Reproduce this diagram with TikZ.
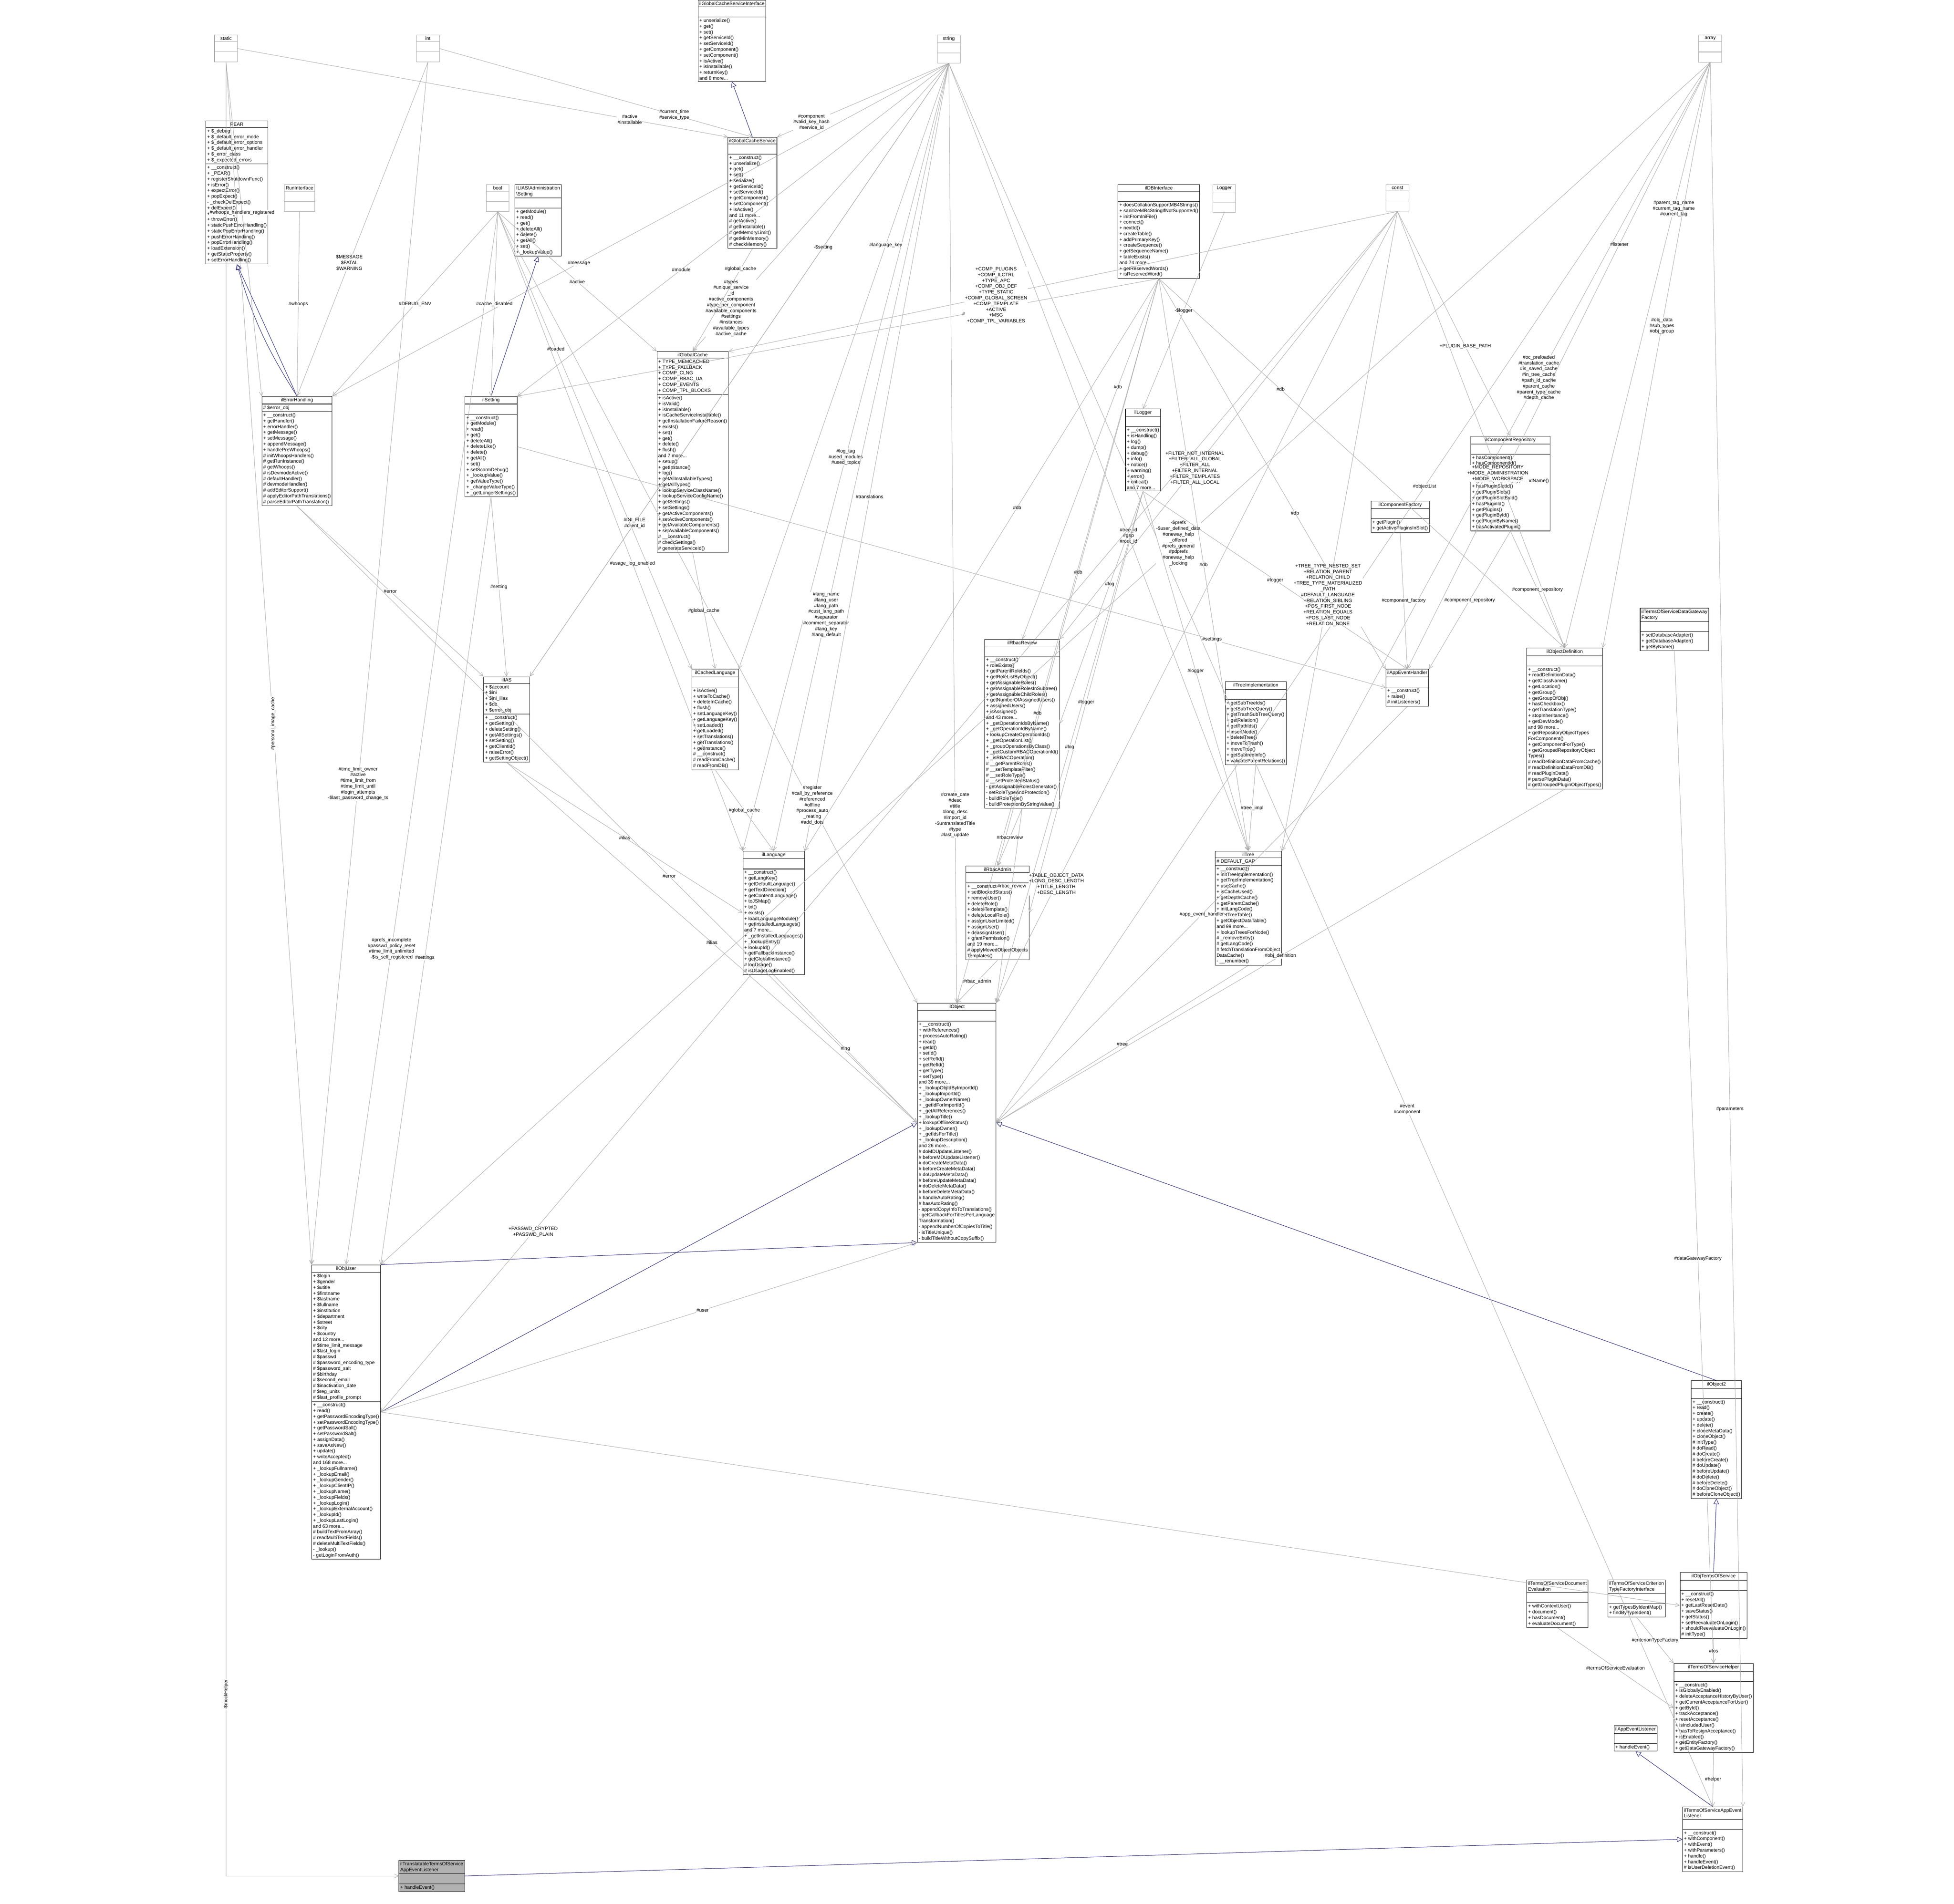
\documentclass[tikz,border=0pt]{standalone}
\usepackage{fontspec}
\setmainfont{Liberation Sans}
\usetikzlibrary{positioning,shapes.multipart,arrows.meta}
\definecolor{inhblue}{rgb}{0.1,0.1,0.44}
\tikzset{every path/.append style={line width=0.3pt}}
\tikzset{
  cls/.style={draw=black, fill=white, rectangle split, rectangle split parts=3,
    rectangle split ignore empty parts=false,
    rectangle split part align={center,left,left}, align=left,
    font=\fontsize{3.6}{4.3}\selectfont, inner sep=1pt, anchor=north west},
  prim/.style={cls, draw=gray!70, minimum width=0.6cm},
  use/.style={draw=gray!65, -{Straight Barb[length=3pt,width=3pt]}},
  inh/.style={draw=inhblue, -{Triangle[open,length=4pt,width=4pt]}},
  lbl/.style={font=\fontsize{3.6}{4.3}\selectfont, align=center, fill=white, inner sep=0.3pt}
}
\begin{document}
\begin{tikzpicture}[x=0.0326cm,y=-0.0326cm]
\useasboundingbox (0,0) rectangle (1568,1528);
% plain types
\node[prim] (static) at (172,28) {static\nodepart{two}\nodepart{three}};
\node[prim] (int) at (334,28) {int\nodepart{two}\nodepart{three}};
\node[prim] (string) at (752,28) {string\nodepart{two}\nodepart{three}};
\node[prim] (array) at (1363,28) {array\nodepart{two}\nodepart{three}};
\node[prim] (bool) at (390,148) {bool\nodepart{two}\nodepart{three}};
\node[prim] (const) at (1112,148) {const\nodepart{two}\nodepart{three}};
\node[prim] (Logger) at (973,148) {Logger\nodepart{two}\nodepart{three}};
\node[prim] (RunInterface) at (228,148) {RunInterface\nodepart{two}\nodepart{three}};
% classes
\node[cls] (gcsi) at (560,0) {ilGlobalCacheServiceInterface\nodepart{two}\nodepart{three}
+ unserialize()\\+ get()\\+ set()\\+ getServiceId()\\+ setServiceId()\\+ getComponent()\\+ setComponent()\\+ isActive()\\+ isInstallable()\\+ returnKey()\\and 8 more...};
\node[cls] (PEAR) at (165,97) {PEAR\nodepart{two}+ \$\_debug\\+ \$\_default\_error\_mode\\+ \$\_default\_error\_options\\+ \$\_default\_error\_handler\\+ \$\_error\_class\\+ \$\_expected\_errors
\nodepart{three}+ \_\_construct()\\+ \_PEAR()\\+ registerShutdownFunc()\\+ isError()\\+ expectError()\\+ popExpect()\\- \_checkDelExpect()\\+ delExpect()\\+ raiseError()\\+ throwError()\\+ staticPushErrorHandling()\\+ staticPopErrorHandling()\\+ pushErrorHandling()\\+ popErrorHandling()\\+ loadExtension()\\+ getStaticProperty()\\+ setErrorHandling()};
\node[cls] (iasset) at (413,148) {ILIAS\textbackslash Administration\\\textbackslash Setting\nodepart{two}\nodepart{three}
+ getModule()\\+ read()\\+ get()\\+ deleteAll()\\+ delete()\\+ getAll()\\+ set()\\+ \_lookupValue()};
\node[cls] (gcs) at (584,110) {ilGlobalCacheService\nodepart{two}\nodepart{three}
+ \_\_construct()\\+ unserialize()\\+ get()\\+ set()\\+ serialize()\\+ getServiceId()\\+ setServiceId()\\+ getComponent()\\+ setComponent()\\+ isActive()\\and 11 more...\\\# getActive()\\\# getInstallable()\\\# getMemoryLimit()\\\# getMinMemory()\\\# checkMemory()};
\node[cls] (db) at (897,148) {ilDBInterface\nodepart{two}\nodepart{three}
+ doesCollationSupportMB4Strings()\\+ sanitizeMB4StringIfNotSupported()\\+ initFromIniFile()\\+ connect()\\+ nextId()\\+ createTable()\\+ addPrimaryKey()\\+ createSequence()\\+ getSequenceName()\\+ tableExists()\\and 74 more...\\+ getReservedWords()\\+ isReservedWord()};
\node[cls] (err) at (210,318) {ilErrorHandling\nodepart{two}\# \$error\_obj\nodepart{three}
+ \_\_construct()\\+ getHandler()\\+ errorHandler()\\+ getMessage()\\+ setMessage()\\+ appendMessage()\\+ handlePreWhoops()\\\# initWhoopsHandlers()\\\# getRunInstance()\\\# getWhoops()\\\# isDevmodeActive()\\\# defaultHandler()\\\# devmodeHandler()\\\# addEditorSupport()\\\# applyEditorPathTranslations()\\\# parseEditorPathTranslation()};
\node[cls] (set) at (373,318) {ilSetting\nodepart{two}\nodepart{three}
+ \_\_construct()\\+ getModule()\\+ read()\\+ get()\\+ deleteAll()\\+ deleteLike()\\+ delete()\\+ getAll()\\+ set()\\+ setScormDebug()\\+ \_lookupValue()\\+ getValueType()\\+ \_changeValueType()\\+ \_getLongerSettings()};
\node[cls] (gc) at (527,282) {ilGlobalCache\nodepart{two}+ TYPE\_MEMCACHED\\+ TYPE\_FALLBACK\\+ COMP\_CLNG\\+ COMP\_RBAC\_UA\\+ COMP\_EVENTS\\+ COMP\_TPL\_BLOCKS\nodepart{three}
+ isActive()\\+ isValid()\\+ isInstallable()\\+ isCacheServiceInstallable()\\+ getInstallationFailureReason()\\+ exists()\\+ set()\\+ get()\\+ delete()\\+ flush()\\and 7 more...\\+ setup()\\+ getInstance()\\+ log()\\+ getAllInstallableTypes()\\+ getAllTypes()\\+ lookupServiceClassName()\\+ lookupServiceConfigName()\\+ getSettings()\\+ setSettings()\\+ getActiveComponents()\\+ setActiveComponents()\\+ getAvailableComponents()\\+ setAvailableComponents()\\\# \_\_construct()\\\# checkSettings()\\\# generateServiceId()};
\node[cls] (log) at (903,328) {ilLogger\nodepart{two}\nodepart{three}
+ \_\_construct()\\+ isHandling()\\+ log()\\+ dump()\\+ debug()\\+ info()\\+ notice()\\+ warning()\\+ error()\\+ critical()\\and 7 more...};
\node[cls] (comprep) at (1180,350) {ilComponentRepository\nodepart{two}\nodepart{three}
+ hasComponent()\\+ hasComponentId()\\+ getComponents()\\+ getComponentById()\\+ getComponentByTypeAndName()\\+ hasPluginSlotId()\\+ getPluginSlots()\\+ getPluginSlotById()\\+ hasPluginId()\\+ getPlugins()\\+ getPluginById()\\+ getPluginByName()\\+ hasActivatedPlugin()};
\node[cls] (compfac) at (1100,402) {ilComponentFactory\nodepart{two}\nodepart{three}
+ getPlugin()\\+ getActivePluginsInSlot()};
\node[cls] (treeimpl) at (983,547) {ilTreeImplementation\nodepart{two}\nodepart{three}
+ getSubTreeIds()\\+ getSubTreeQuery()\\+ getTrashSubTreeQuery()\\+ getRelation()\\+ getPathIds()\\+ insertNode()\\+ deleteTree()\\+ moveToTrash()\\+ moveTree()\\+ getSubtreeInfo()\\+ validateParentRelations()};
\node[cls] (dgf) at (1316,488) {ilTermsOfServiceDataGateway\\Factory\nodepart{two}\nodepart{three}
+ setDatabaseAdapter()\\+ getDatabaseAdapter()\\+ getByName()};
\node[cls] (rbrev) at (790,513) {ilRbacReview\nodepart{two}\nodepart{three}
+ \_\_construct()\\+ roleExists()\\+ getParentRoleIds()\\+ getRoleListByObject()\\+ getAssignableRoles()\\+ getAssignableRolesInSubtree()\\+ getAssignableChildRoles()\\+ getNumberOfAssignedUsers()\\+ assignedUsers()\\+ isAssigned()\\and 43 more...\\+ \_getOperationIdsByName()\\+ \_getOperationIdByName()\\+ lookupCreateOperationIds()\\+ \_getOperationList()\\+ \_groupOperationsByClass()\\+ \_getCustomRBACOperationId()\\+ \_isRBACOperation()\\\# \_\_getParentRoles()\\\# \_\_setTemplateFilter()\\\# \_\_setRoleType()\\\# \_\_setProtectedStatus()\\- getAssignableRolesGenerator()\\- setRoleTypeAndProtection()\\- buildRoleType()\\- buildProtectionByStringValue()};
\node[cls] (clng) at (555,537) {ilCachedLanguage\nodepart{two}\nodepart{three}
+ isActive()\\+ writeToCache()\\+ deleteInCache()\\+ flush()\\+ setLanguageKey()\\+ getLanguageKey()\\+ setLoaded()\\+ getLoaded()\\+ setTranslations()\\+ getTranslations()\\+ getInstance()\\\# \_\_construct()\\\# readFromCache()\\\# readFromDB()};
\node[cls] (ias) at (388,543) {ilIAS\nodepart{two}+ \$account\\+ \$ini\\+ \$ini\_ilias\\+ \$db\\+ \$error\_obj\nodepart{three}
+ \_\_construct()\\+ getSetting()\\+ deleteSetting()\\+ getAllSettings()\\+ setSetting()\\+ getClientId()\\+ raiseError()\\+ getSettingObject()};
\node[cls] (aeh) at (1112,537) {ilAppEventHandler\nodepart{two}\nodepart{three}
+ \_\_construct()\\+ raise()\\\# initListeners()};
\node[cls] (objdef) at (1225,520) {ilObjectDefinition\nodepart{two}\nodepart{three}
+ \_\_construct()\\+ readDefinitionData()\\+ getClassName()\\+ getLocation()\\+ getGroup()\\+ getGroupOfObj()\\+ hasCheckbox()\\+ getTranslationType()\\+ stopInheritance()\\+ getDevMode()\\and 98 more...\\+ getRepositoryObjectTypes\\ForComponent()\\+ getComponentForType()\\+ getGroupedRepositoryObject\\Types()\\\# readDefinitionDataFromCache()\\\# readDefinitionDataFromDB()\\\# readPluginData()\\\# parsePluginData()\\\# getGroupedPluginObjectTypes()};
\node[cls] (lng) at (596,683) {ilLanguage\nodepart{two}\nodepart{three}
+ \_\_construct()\\+ getLangKey()\\+ getDefaultLanguage()\\+ getTextDirection()\\+ getContentLanguage()\\+ toJSMap()\\+ txt()\\+ exists()\\+ loadLanguageModule()\\+ getInstalledLanguages()\\and 7 more...\\+ \_getInstalledLanguages()\\+ \_lookupEntry()\\+ lookupId()\\+ getFallbackInstance()\\+ getGlobalInstance()\\\# logUsage()\\\# isUsageLogEnabled()};
\node[cls] (rbadm) at (775,695) {ilRbacAdmin\nodepart{two}\nodepart{three}
+ \_\_construct()\\+ setBlockedStatus()\\+ removeUser()\\+ deleteRole()\\+ deleteTemplate()\\+ deleteLocalRole()\\+ assignUserLimited()\\+ assignUser()\\+ deassignUser()\\+ grantPermission()\\and 19 more...\\\# applyMovedObjectObjects\\Templates()};
\node[cls] (tree) at (975,683) {ilTree\nodepart{two}\# DEFAULT\_GAP\nodepart{three}
+ \_\_construct()\\+ initTreeImplementation()\\+ getTreeImplementation()\\+ useCache()\\+ isCacheUsed()\\+ getDepthCache()\\+ getParentCache()\\+ initLangCode()\\+ getTreeTable()\\+ getObjectDataTable()\\and 99 more...\\+ lookupTreesForNode()\\\# \_removeEntry()\\\# getLangCode()\\\# fetchTranslationFromObject\\DataCache()\\- \_\_renumber()};
\node[cls] (obj) at (736,805) {ilObject\nodepart{two}\nodepart{three}
+ \_\_construct()\\+ withReferences()\\+ processAutoRating()\\+ read()\\+ getId()\\+ setId()\\+ setRefId()\\+ getRefId()\\+ getType()\\+ setType()\\and 39 more...\\+ \_lookupObjIdByImportId()\\+ \_lookupImportId()\\+ \_lookupOwnerName()\\+ \_getIdForImportId()\\+ \_getAllReferences()\\+ \_lookupTitle()\\+ lookupOfflineStatus()\\+ \_lookupOwner()\\+ \_getIdsForTitle()\\+ \_lookupDescription()\\and 26 more...\\\# doMDUpdateListener()\\\# beforeMDUpdateListener()\\\# doCreateMetaData()\\\# beforeCreateMetaData()\\\# doUpdateMetaData()\\\# beforeUpdateMetaData()\\\# doDeleteMetaData()\\\# beforeDeleteMetaData()\\\# handleAutoRating()\\\# hasAutoRating()\\- appendCopyInfoToTranslations()\\- getCallbackForTitlesPerLanguage\\Transformation()\\- appendNumberOfCopiesToTitle()\\- isTitleUnique()\\- buildTitleWithoutCopySuffix()};
\node[cls] (user) at (250,1015) {ilObjUser\nodepart{two}+ \$login\\+ \$gender\\+ \$utitle\\+ \$firstname\\+ \$lastname\\+ \$fullname\\+ \$institution\\+ \$department\\+ \$street\\+ \$city\\+ \$country\\and 12 more...\\\# \$time\_limit\_message\\\# \$last\_login\\\# \$passwd\\\# \$password\_encoding\_type\\\# \$password\_salt\\\# \$birthday\\\# \$second\_email\\\# \$inactivation\_date\\\# \$reg\_units\\\# \$last\_profile\_prompt\nodepart{three}
+ \_\_construct()\\+ read()\\+ getPasswordEncodingType()\\+ setPasswordEncodingType()\\+ getPasswordSalt()\\+ setPasswordSalt()\\+ assignData()\\+ saveAsNew()\\+ update()\\+ writeAccepted()\\and 168 more...\\+ \_lookupFullname()\\+ \_lookupEmail()\\+ \_lookupGender()\\+ \_lookupClientIP()\\+ \_lookupName()\\+ \_lookupFields()\\+ \_lookupLogin()\\+ \_lookupExternalAccount()\\+ \_lookupId()\\+ \_lookupLastLogin()\\and 63 more...\\\# buildTextFromArray()\\\# readMultiTextFields()\\\# deleteMultiTextFields()\\- \_lookup()\\- getLoginFromAuth()};
\node[cls] (obj2) at (1357,1108) {ilObject2\nodepart{two}\nodepart{three}
+ \_\_construct()\\+ read()\\+ create()\\+ update()\\+ delete()\\+ cloneMetaData()\\+ cloneObject()\\\# initType()\\\# doRead()\\\# doCreate()\\\# beforeCreate()\\\# doUpdate()\\\# beforeUpdate()\\\# doDelete()\\\# beforeDelete()\\\# doCloneObject()\\\# beforeCloneObject()};
\node[cls] (tos) at (1348,1262) {ilObjTermsOfService\nodepart{two}\nodepart{three}
+ \_\_construct()\\+ resetAll()\\+ getLastResetDate()\\+ saveStatus()\\+ getStatus()\\+ setReevaluateOnLogin()\\+ shouldReevaluateOnLogin()\\\# initType()};
\node[cls] (doceval) at (1225,1268) {ilTermsOfServiceDocument\\Evaluation\nodepart{two}\nodepart{three}
+ withContextUser()\\+ document()\\+ hasDocument()\\+ evaluateDocument()};
\node[cls] (critfac) at (1290,1268) {ilTermsOfServiceCriterion\\TypeFactoryInterface\nodepart{two}\nodepart{three}
+ getTypesByIdentMap()\\+ findByTypeIdent()};
\node[cls] (helper) at (1343,1335) {ilTermsOfServiceHelper\nodepart{two}\nodepart{three}
+ \_\_construct()\\+ isGloballyEnabled()\\+ deleteAcceptanceHistoryByUser()\\+ getCurrentAcceptanceForUser()\\+ getById()\\+ trackAcceptance()\\+ resetAcceptance()\\+ isIncludedUser()\\+ hasToResignAcceptance()\\+ isEnabled()\\+ getEntityFactory()\\+ getDataGatewayFactory()};
\node[cls] (ael) at (1295,1385) {ilAppEventListener\nodepart{two}\nodepart{three}+ handleEvent()};
\node[cls] (tosael) at (1350,1450) {ilTermsOfServiceAppEvent\\Listener\nodepart{two}\nodepart{three}
+ \_\_construct()\\+ withComponent()\\+ withEvent()\\+ withParameters()\\+ handle()\\+ handleEvent()\\\# isUserDeletionEvent()};
\node[cls, fill=gray!60] (trans) at (320,1493) {ilTranslatableTermsOfService\\AppEventListener\nodepart{two}\nodepart{three}+ handleEvent()};
% inheritance
\draw[inh] (gcs.north) -- (gcsi.south);
\draw[inh] (err.north) -- (PEAR.south);
\draw[inh] (err.north) to[bend left=8] (PEAR.south);
\draw[inh] (set.north) -- (iasset.south);
\draw[inh] (user.north east) -- (obj.south west);
\draw[inh] (user.east) -- (obj.west);
\draw[inh] (obj2.north) -- (obj.east);
\draw[inh] (tos.north) -- (obj2.south);
\draw[inh] (tosael.north) -- (ael.south);
\draw[inh] (trans.east) -- (tosael.west);
% usage
\draw[use] (static.south) -- node[lbl,pos=0.45]{\#whoops\_handlers\_registered} (err.north west);
\draw[use] (static.south) -- node[lbl,pos=0.55,rotate=90]{\#personal\_image\_cache} (user.north west);
\draw[use] (static.south) |- node[lbl,pos=0.45,rotate=90]{-\$mockHelper} (trans.west);
\draw[use] (static.east) -- node[lbl,pos=0.8]{\#active\\\#installable} (gcs.north west);
\draw[use] (int.south) -- node[lbl,pos=0.6]{\$MESSAGE\\\$FATAL\\\$WARNING} (err.north);
\draw[use] (int.south) -- node[lbl,pos=0.6]{\#time\_limit\_owner\\\#active\\\#time\_limit\_from\\\#time\_limit\_until\\\#login\_attempts\\-\$last\_password\_change\_ts} (user.north west);
\draw[use] (int.east) -- node[lbl,pos=0.75]{\#current\_time\\\#service\_type} (gcs.north);
\draw[use] (string.south) -- node[lbl,pos=0.8]{\#component\\\#valid\_key\_hash\\\#service\_id} (gcs.north east);
\draw[use] (string.south) -- node[lbl,pos=0.85]{\#types\\\#unique\_service\\\_id\\\#active\_components\\\#type\_per\_component\\\#available\_components\\\#settings\\\#instances\\\#available\_types\\\#active\_cache} (gc.north);
\draw[use] (string.south) -- node[lbl,pos=0.6]{\#message} (err.north east);
\draw[use] (string.south) -- node[lbl,pos=0.5]{\#log\_tag\\\#used\_modules\\\#used\_topics} (lng.north west);
\draw[use] (string.south) -- node[lbl,pos=0.7]{\#lang\_name\\\#lang\_user\\\#lang\_path\\\#cust\_lang\_path\\\#separator\\\#comment\_separator\\\#lang\_key\\\#lang\_default} (lng.north);
\draw[use] (string.south) -- node[lbl,pos=0.8]{\#create\_date\\\#desc\\\#title\\\#long\_desc\\\#import\_id\\-\$untranslatedTitle\\\#type\\\#last\_update} (obj.north);
\draw[use] (string.south) -- node[lbl,pos=0.6]{\#tree\_id\\\#gap\\\#root\_id} (tree.north);
\draw[use] (string.south) -- node[lbl,pos=0.62]{\#module} (set.north east);
\draw[use] (string.south) -- node[lbl,pos=0.3]{-\$setting} (ias.north east);
\draw[use] (string.south) -- node[lbl,pos=0.75]{\#INI\_FILE\\\#client\_id} (ias.north east);
\draw[use] (string.south) -- node[lbl,pos=0.55]{\#translations} (lng.north east);
\draw[use] (string.south) -- node[lbl,pos=0.3]{\#language\_key} (clng.north east);
\draw[use] (string.south) -- node[lbl,pos=0.6]{\#event\\\#component} (tosael.north);
\draw[use] (array.south) -- node[lbl,pos=0.6]{\#parameters} (tosael.north east);
\draw[use] (array.south) -- node[lbl,pos=0.4]{-\$prefs\\-\$user\_defined\_data\\\#oneway\_help\\\_offered\\\#prefs\_general\\\#pdprefs\\\#oneway\_help\\\_looking} (user.north east);
\draw[use] (array.south) -- node[lbl,pos=0.4]{\#oc\_preloaded\\\#translation\_cache\\\#is\_saved\_cache\\\#in\_tree\_cache\\\#path\_id\_cache\\\#parent\_cache\\\#parent\_type\_cache\\\#depth\_cache} (tree.north east);
\draw[use] (array.south) -- node[lbl,pos=0.3]{\#listener} (aeh.north);
\draw[use] (array.south) -- node[lbl,pos=0.25]{\#parent\_tag\_name\\\#current\_tag\_name\\\#current\_tag} (objdef.north);
\draw[use] (array.south) -- node[lbl,pos=0.45]{\#obj\_data\\\#sub\_types\\\#obj\_group} (objdef.north east);
\draw[use] (array.south) -- node[lbl,pos=0.4]{\#objectList} (obj.east);
\draw[use] (RunInterface.south) -- node[lbl]{\#whoops} (err.north);
\draw[use] (bool.south) -- node[lbl,pos=0.5]{\#DEBUG\_ENV} (err.north east);
\draw[use] (bool.south) -- node[lbl,pos=0.5]{\#cache\_disabled} (set.north);
\draw[use] (bool.south) -- node[lbl,pos=0.5]{\#active} (gc.north west);
\draw[use] (bool.south) -- node[lbl,pos=0.3]{\#loaded} (clng.north west);
\draw[use] (bool.south) -- node[lbl,pos=0.55]{\#usage\_log\_enabled} (lng.north west);
\draw[use] (bool.south) -- node[lbl,pos=0.7]{\#prefs\_incomplete\\\#passwd\_policy\_reset\\\#time\_limit\_unlimited\\-\$is\_self\_registered} (user.north);
\draw[use] (bool.south) -- node[lbl,pos=0.75]{\#register\\\#call\_by\_reference\\\#referenced\\\#offline\\\#process\_auto\\\_reating\\\#add\_dots} (obj.north west);
\draw[use] (gcs.south) -- node[lbl,pos=0.2]{\#global\_cache} (gc.north);
\draw[use] (db.south) -- node[lbl,pos=0.3]{\#db} (set.north east);
\draw[use] (db.south) -- node[lbl,pos=0.3]{\#db} (rbrev.north);
\draw[use] (db.south) -- node[lbl,pos=0.5]{\#db} (rbadm.north);
\draw[use] (db.south) -- node[lbl,pos=0.5]{\#db} (tree.north);
\draw[use] (db.south) -- node[lbl,pos=0.6]{\#db} (obj.north);
\draw[use] (db.south) -- node[lbl,pos=0.6]{\#db} (aeh.north west);
\draw[use] (db.south) -- node[lbl,pos=0.4]{\#db} (lng.north east);
\draw[use] (db.south) -- node[lbl,pos=0.3]{\#db} (objdef.north);
\draw[use] (Logger.south) -- node[lbl]{-\$logger} (log.north);
\draw[use] (const.south) -- node[lbl,pos=0.6]{+COMP\_PLUGINS\\+COMP\_ILCTRL\\+TYPE\_APC\\+COMP\_OBJ\_DEF\\+TYPE\_STATIC\\+COMP\_GLOBAL\_SCREEN\\+COMP\_TEMPLATE\\+ACTIVE\\+MSG\\+COMP\_TPL\_VARIABLES} (gc.north east);
\draw[use] (const.south) -- node[lbl,pos=0.6]{+PLUGIN\_BASE\_PATH} (comprep.north);
\draw[use] (const.south) -- node[lbl,pos=0.6]{+MODE\_REPOSITORY\\+MODE\_ADMINISTRATION\\+MODE\_WORKSPACE} (objdef.north);
\draw[use] (const.south) -- node[lbl,pos=0.6]{+FILTER\_NOT\_INTERNAL\\+FILTER\_ALL\_GLOBAL\\+FILTER\_ALL\\+FILTER\_INTERNAL\\+FILTER\_TEMPLATES\\+FILTER\_ALL\_LOCAL} (rbrev.north east);
\draw[use] (const.south) -- node[lbl,pos=0.6]{+TREE\_TYPE\_NESTED\_SET\\+RELATION\_PARENT\\+RELATION\_CHILD\\+TREE\_TYPE\_MATERIALIZED\\\_PATH\\\#DEFAULT\_LANGUAGE\\+RELATION\_SIBLING\\+POS\_FIRST\_NODE\\+RELATION\_EQUALS\\+POS\_LAST\_NODE\\+RELATION\_NONE} (tree.north east);
\draw[use] (const.south) -- node[lbl,pos=0.85]{+TABLE\_OBJECT\_DATA\\+LONG\_DESC\_LENGTH\\+TITLE\_LENGTH\\+DESC\_LENGTH} (obj.north east);
\draw[use] (const.south) -- node[lbl,pos=0.85]{+PASSWD\_CRYPTED\\+PASSWD\_PLAIN} (user.east);
\draw[use] (err.south) -- node[lbl,pos=0.5]{\#error} (ias.north west);
\draw[use] (set.south) -- node[lbl]{\#setting} (ias.north);
\draw[use] (set.south) -- node[lbl,pos=0.6]{\#settings} (user.north east);
\draw[use] (set.east) -- node[lbl,pos=0.8]{\#settings} (aeh.west);
\draw[use] (gc.south) -- node[lbl]{\#global\_cache} (clng.north);
\draw[use] (clng.south) -- node[lbl]{\#global\_cache} (lng.north);
\draw[use] (ias.south) -- node[lbl]{\#ilias} (lng.west);
\draw[use] (ias.south) -- node[lbl,pos=0.5]{\#ilias} (obj.west);
\draw[use] (err.south) -- node[lbl,pos=0.6]{\#error} (obj.west);
\draw[use] (log.south) -- node[lbl,pos=0.4]{\#log} (rbrev.east);
\draw[use] (log.south) -- node[lbl,pos=0.5]{\#logger} (rbadm.east);
\draw[use] (log.south) -- node[lbl,pos=0.5]{\#logger} (tree.north);
\draw[use] (log.south) -- node[lbl,pos=0.5]{\#log} (obj.north east);
\draw[use] (log.south) -- node[lbl,pos=0.5]{\#logger} (aeh.north);
\draw[use] (compfac.south) -- node[lbl]{\#component\_factory} (aeh.north);
\draw[use] (comprep.south) -- node[lbl]{\#component\_repository} (aeh.north east);
\draw[use] (comprep.south) -- node[lbl]{\#component\_repository} (objdef.north);
\draw[use] (treeimpl.south) -- node[lbl]{\#tree\_impl} (tree.north);
\draw[use] (rbrev.south) -- node[lbl]{\#rbacreview} (rbadm.north);
\draw[use] (rbrev.south) -- node[lbl,pos=0.4]{\#rbac\_review} (obj.north east);
\draw[use] (rbadm.south) -- node[lbl]{\#rbac\_admin} (obj.north);
\draw[use] (lng.south) -- node[lbl]{\#lng} (obj.west);
\draw[use] (tree.south) -- node[lbl]{\#tree} (obj.east);
\draw[use] (aeh.south) -- node[lbl]{\#app\_event\_handler} (obj.east);
\draw[use] (objdef.south) -- node[lbl]{\#obj\_definition} (obj.east);
\draw[use] (dgf.south) -- node[lbl,pos=0.6]{\#dataGatewayFactory} (helper.north);
\draw[use] (user.east) -- node[lbl,pos=0.6]{\#user} (obj.south west);
\draw[use] (user.east) -- (tos.west);
\draw[use] (tos.south) -- node[lbl]{\#tos} (helper.north);
\draw[use] (doceval.south) -- node[lbl]{\#termsOfServiceEvaluation} (helper.west);
\draw[use] (critfac.south) -- node[lbl]{\#criterionTypeFactory} (helper.north west);
\draw[use] (helper.south) -- node[lbl]{\#helper} (tosael.north);
\end{tikzpicture}
\end{document}
